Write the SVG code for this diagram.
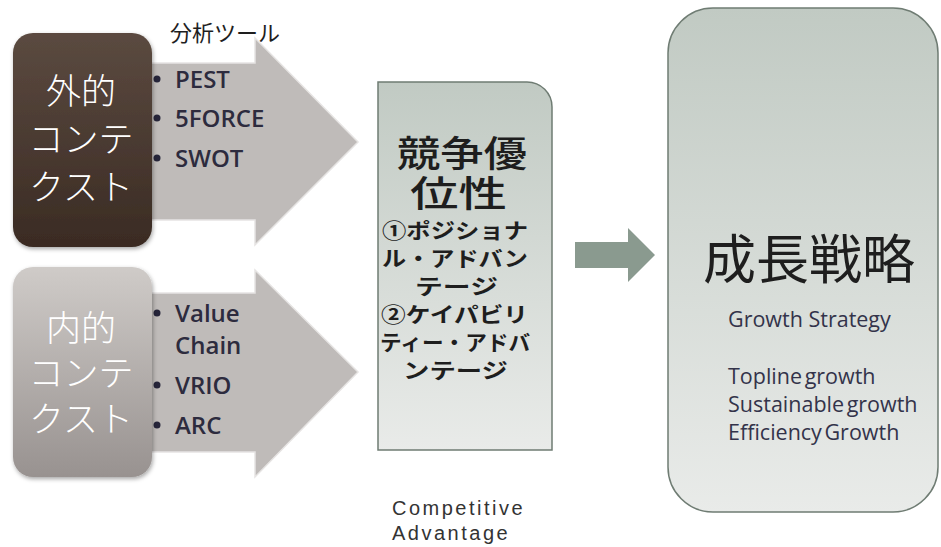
<svg xmlns="http://www.w3.org/2000/svg" width="941" height="547" viewBox="0 0 941 547">
<defs>
  <linearGradient id="gDark" x1="0" y1="0" x2="0" y2="1">
    <stop offset="0" stop-color="#5b4a40"/>
    <stop offset="1" stop-color="#3a2b23"/>
  </linearGradient>
  <linearGradient id="gLight" x1="0" y1="0" x2="0" y2="1">
    <stop offset="0" stop-color="#cfcbc8"/>
    <stop offset="1" stop-color="#989290"/>
  </linearGradient>
  <linearGradient id="gGreen" x1="0" y1="0" x2="0" y2="1">
    <stop offset="0" stop-color="#c1cac3"/>
    <stop offset="1" stop-color="#e9ebe9"/>
  </linearGradient>
  <filter id="sh" x="-10%" y="-10%" width="130%" height="130%">
    <feDropShadow dx="1" dy="2" stdDeviation="2" flood-color="#000" flood-opacity="0.35"/>
  </filter>
</defs>
<style>
  .arrow { fill: #bfbbb9; stroke: #e6e4e3; stroke-width: 1.5; }
  .ctx { font-family: "Noto Sans CJK JP", sans-serif; font-size: 35px; font-weight: 300; fill: #ffffff; text-anchor: middle; }
  .bul { font-family: "Open Sans", "Noto Sans", sans-serif; font-size: 24px; font-weight: 600; fill: #2d2b3e; }
  .dot { fill: #26253a; }
  .jp { font-family: "Noto Sans CJK JP", sans-serif; fill: #1e1e1e; }
  .big { font-size: 36px; font-weight: 500; }
  .sm { font-size: 21px; font-weight: bold; }
  .box { stroke: #6f7c73; stroke-width: 1.5; fill: url(#gGreen); }
  .en { font-family: "Open Sans", "Noto Sans", sans-serif; font-size: 21.5px; fill: #33334a; }
  .ca { font-family: "Liberation Sans", sans-serif; font-size: 20px; fill: #333333; letter-spacing: 2.5px; }
</style>

<g id="connectors">
  <path d="M575,242 L628,242 L628,228 L655,255 L628,282 L628,268 L575,268 Z" fill="#8a9a8f"/>
</g>

<g id="tool-label">
  <text class="jp" x="170" y="41" font-size="22">分析ツール</text>
</g>

<g id="arrow-external">
  <path class="arrow" d="M140,63 L255,63 L255,38 L358,142 L255,245 L255,220 L140,220 Z"/>
  <circle class="dot" cx="157" cy="79" r="3.5"/>
  <circle class="dot" cx="157" cy="118" r="3.5"/>
  <circle class="dot" cx="157" cy="158" r="3.5"/>
  <text class="bul" x="175" y="88">PEST</text>
  <text class="bul" x="175" y="127">5FORCE</text>
  <text class="bul" x="175" y="167">SWOT</text>
</g>

<g id="arrow-internal">
  <path class="arrow" d="M140,293 L255,293 L255,270 L358,372 L255,477 L255,452 L140,452 Z"/>
  <circle class="dot" cx="157" cy="313" r="3.5"/>
  <circle class="dot" cx="157" cy="385" r="3.5"/>
  <circle class="dot" cx="157" cy="425" r="3.5"/>
  <text class="bul" x="175" y="322">Value</text>
  <text class="bul" x="175" y="354">Chain</text>
  <text class="bul" x="175" y="394">VRIO</text>
  <text class="bul" x="175" y="434">ARC</text>
</g>

<g id="external-context">
  <rect x="13" y="33" width="139" height="214" rx="20" fill="url(#gDark)" filter="url(#sh)"/>
  <text class="ctx" x="81" y="104">外的</text>
  <text class="ctx" x="81" y="152">コンテ</text>
  <text class="ctx" x="81" y="200">クスト</text>
</g>

<g id="internal-context">
  <rect x="13" y="267" width="139" height="210" rx="20" fill="url(#gLight)" filter="url(#sh)"/>
  <text class="ctx" x="81" y="341">内的</text>
  <text class="ctx" x="81" y="386">コンテ</text>
  <text class="ctx" x="81" y="432">クスト</text>
</g>

<g id="competitive-advantage">
  <path class="box" d="M378,82 L527,82 A25,25 0 0 1 552,107 L552,450 L378,450 Z"/>
  <g class="jp">
    <text class="big" x="397" y="167" textLength="130" lengthAdjust="spacingAndGlyphs">競争優</text>
    <text class="big" x="410" y="207" textLength="97" lengthAdjust="spacingAndGlyphs">位性</text>
    <text class="sm" x="382" y="238" textLength="146" lengthAdjust="spacingAndGlyphs">①ポジショナ</text>
    <text class="sm" x="382" y="266" textLength="146" lengthAdjust="spacingAndGlyphs">ル・アドバン</text>
    <text class="sm" x="415" y="294" textLength="83" lengthAdjust="spacingAndGlyphs">テージ</text>
    <text class="sm" x="381" y="322" textLength="147" lengthAdjust="spacingAndGlyphs">②ケイパビリ</text>
    <text class="sm" x="380" y="350" textLength="150" lengthAdjust="spacingAndGlyphs">ティー・アドバ</text>
    <text class="sm" x="403" y="378" textLength="105" lengthAdjust="spacingAndGlyphs">ンテージ</text>
  </g>
  <text class="ca" x="392" y="515">Competitive</text>
  <text class="ca" x="392" y="540">Advantage</text>
</g>

<g id="growth-strategy">
  <rect class="box" x="668" y="8" width="270" height="504" rx="45"/>
  <text class="jp" x="809" y="279" font-size="53" text-anchor="middle">成長戦略</text>
  <text class="en" x="728" y="327">Growth Strategy</text>
  <text class="en" x="728" y="384" word-spacing="-3">Topline growth</text>
  <text class="en" x="728" y="412" word-spacing="-3">Sustainable growth</text>
  <text class="en" x="728" y="440" word-spacing="-3">Efficiency Growth</text>
</g>
</svg>
